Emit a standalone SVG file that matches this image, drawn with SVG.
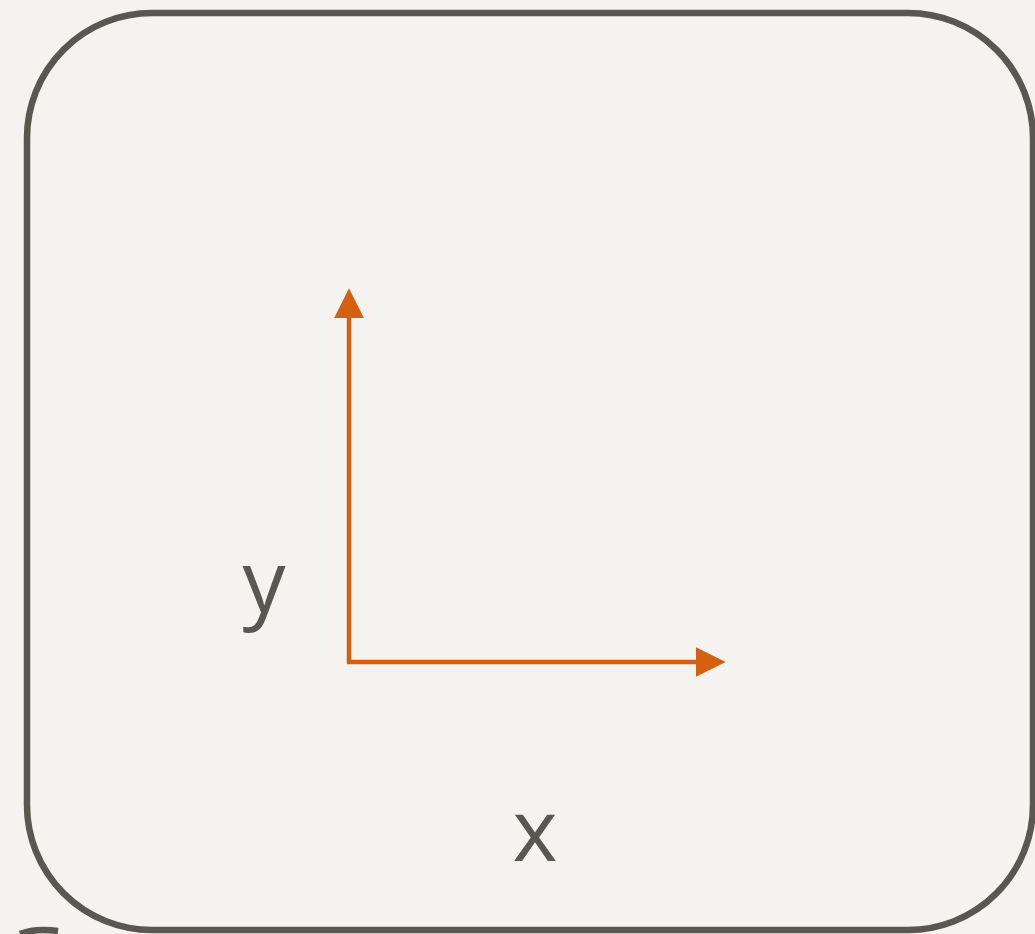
<svg xmlns="http://www.w3.org/2000/svg" width="1035" height="934" viewBox="0 0 1035 934">
<style>
.frame{fill:none;stroke:#5a5651;stroke-width:6.5}
.axis{fill:none;stroke:#d4600f;stroke-width:4.5}
.lbl{font-family:"Open Sans","Liberation Sans",sans-serif;font-size:86px;fill:#5a5651;text-anchor:middle}
</style>
<defs>
<marker id="ah" markerUnits="userSpaceOnUse" markerWidth="30" markerHeight="30" viewBox="0 0 26 26" refX="2" refY="13" orient="auto">
<path d="M0,0 L26,13 L0,26 Z" fill="#d4600f"/>
</marker>
</defs>
<rect width="1035" height="934" fill="#f4f3ef"/>
<g id="frame">
<rect class="frame" x="27" y="13" width="1006" height="917" rx="125" ry="125"/>
<path class="frame" d="M20,934 Q35,928 58,931"/>
</g>
<g id="connectors">
<line class="axis" x1="349" y1="663" x2="349" y2="316" marker-end="url(#ah)"/>
<line class="axis" x1="347" y1="662" x2="698" y2="662" marker-end="url(#ah)"/>
</g>
<g id="label-y"><text class="lbl" x="264" y="612">y</text></g>
<g id="label-x"><text class="lbl" x="535" y="861">x</text></g>
</svg>
